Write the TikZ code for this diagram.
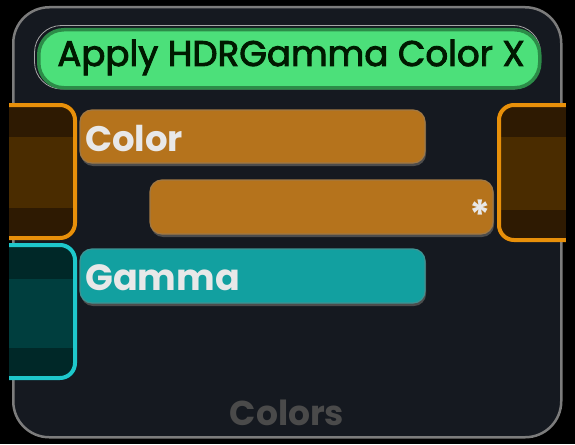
\documentclass[tikz,border=0pt]{standalone}
\usepackage{fontspec}
\newfontfamily\pop{Poppins}
\newfontfamily\popmid{Poppins}[FakeBold=2.5]
\definecolor{bgk}{HTML}{000000}
\definecolor{panel}{HTML}{151920}
\definecolor{panelrim}{HTML}{7C7C7C}
\definecolor{titlefill}{HTML}{4CE07A}
\definecolor{titlerim}{HTML}{2C8C48}
\definecolor{orangebar}{HTML}{B5731C}
\definecolor{orangerim}{HTML}{E8900A}
\definecolor{orangedark}{HTML}{2E1A02}
\definecolor{orangemid}{HTML}{4A2C00}
\definecolor{tealbar}{HTML}{12A0A0}
\definecolor{tealrim}{HTML}{1EC8CC}
\definecolor{tealdark}{HTML}{002828}
\definecolor{tealmid}{HTML}{003E3E}
\definecolor{bartext}{HTML}{E8E8E8}
\definecolor{footer}{HTML}{4A4A4A}
\begin{document}
\begin{tikzpicture}[x=1pt,y=-1pt,
  bar/.style={draw=#1!60!gray, line width=1.2pt, rounded corners=12pt},
  lbl/.style={text=bartext, font=\pop\bfseries\fontsize{35.5}{35.5}\selectfont, anchor=base west, inner sep=0pt},
]
\useasboundingbox (0,0) rectangle (575,444);
\fill[bgk] (0,0) rectangle (575,444);
% panel
\node[draw=panelrim, line width=2.5pt, fill=panel, rounded corners=36pt, minimum width=548pt, minimum height=430pt, anchor=north west, inner sep=0pt] (panel) at (12,6) {};
% title
\draw[gray!70, line width=0.8pt, rounded corners=27pt] (34.5,25.5) rectangle (540.5,89);
\node[draw=titlerim, line width=3.5pt, fill=titlefill, rounded corners=25pt, minimum width=501pt, minimum height=58pt, anchor=north west, inner sep=0pt] (title) at (37,28) {};
\node[font=\popmid\fontsize{35.6}{35.6}\selectfont, text=black!90!green, anchor=base] (titletext) at (291,66) {Apply HDRGamma Color X};
% left orange pin
\begin{scope}
\clip[rounded corners=16pt] (-10,103) rectangle (77,240);
\fill[orangedark] (-10,103) rectangle (77,240);
\fill[orangemid] (-10,137) rectangle (77,208);
\end{scope}
\draw[orangerim, line width=4pt, rounded corners=15pt] (-10,105) -- (75,105) -- (75,238) -- (-10,238);
\node[inner sep=0pt, minimum width=68pt, minimum height=137pt, anchor=north west] (pinL1) at (9,103) {};
% left teal pin
\begin{scope}
\clip[rounded corners=16pt] (-10,243) rectangle (77,380);
\fill[tealdark] (-10,243) rectangle (77,380);
\fill[tealmid] (-10,279) rectangle (77,348);
\end{scope}
\draw[tealrim, line width=4pt, rounded corners=15pt] (-10,245) -- (75,245) -- (75,378) -- (-10,378);
\fill[bgk] (0,95) rectangle (9,390);
\node[inner sep=0pt, minimum width=68pt, minimum height=137pt, anchor=north west] (pinL2) at (9,243) {};
% right orange pin
\begin{scope}
\clip[rounded corners=16pt] (497,103) rectangle (590,242);
\fill[orangedark] (497,103) rectangle (590,242);
\fill[orangemid] (497,137) rectangle (590,210);
\end{scope}
\draw[orangerim, line width=4pt, rounded corners=15pt] (590,105) -- (499,105) -- (499,240) -- (590,240);
\fill[bgk] (566,95) rectangle (575,250);
\node[inner sep=0pt, minimum width=69pt, minimum height=139pt, anchor=north west] (pinR) at (497,103) {};
% bars
\fill[black!70, rounded corners=12pt] (81,112) rectangle (426,166);
\draw[bar=orangebar, fill=orangebar] (80,110) rectangle (425,163);
\node[lbl] (colorlbl) at (85,151) {Color};
\fill[black!70, rounded corners=12pt] (151,182) rectangle (494,237);
\draw[bar=orangebar, fill=orangebar] (150,180) rectangle (493,234);
\node[text=bartext, font=\pop\bfseries\fontsize{40}{40}\selectfont, inner sep=0pt] (star) at (480,215) {*};
\fill[black!70, rounded corners=12pt] (81,251) rectangle (426,306);
\draw[bar=tealbar, fill=tealbar] (80,249) rectangle (425,303);
\node[lbl, font=\pop\bfseries\fontsize{36.5}{36.5}\selectfont] (gammalbl) at (85,290) {Gamma};
% footer
\node[text=footer, font=\pop\bfseries\fontsize{34.5}{34.5}\selectfont, anchor=base] (footer) at (287,425) {Colors};
\end{tikzpicture}
\end{document}
